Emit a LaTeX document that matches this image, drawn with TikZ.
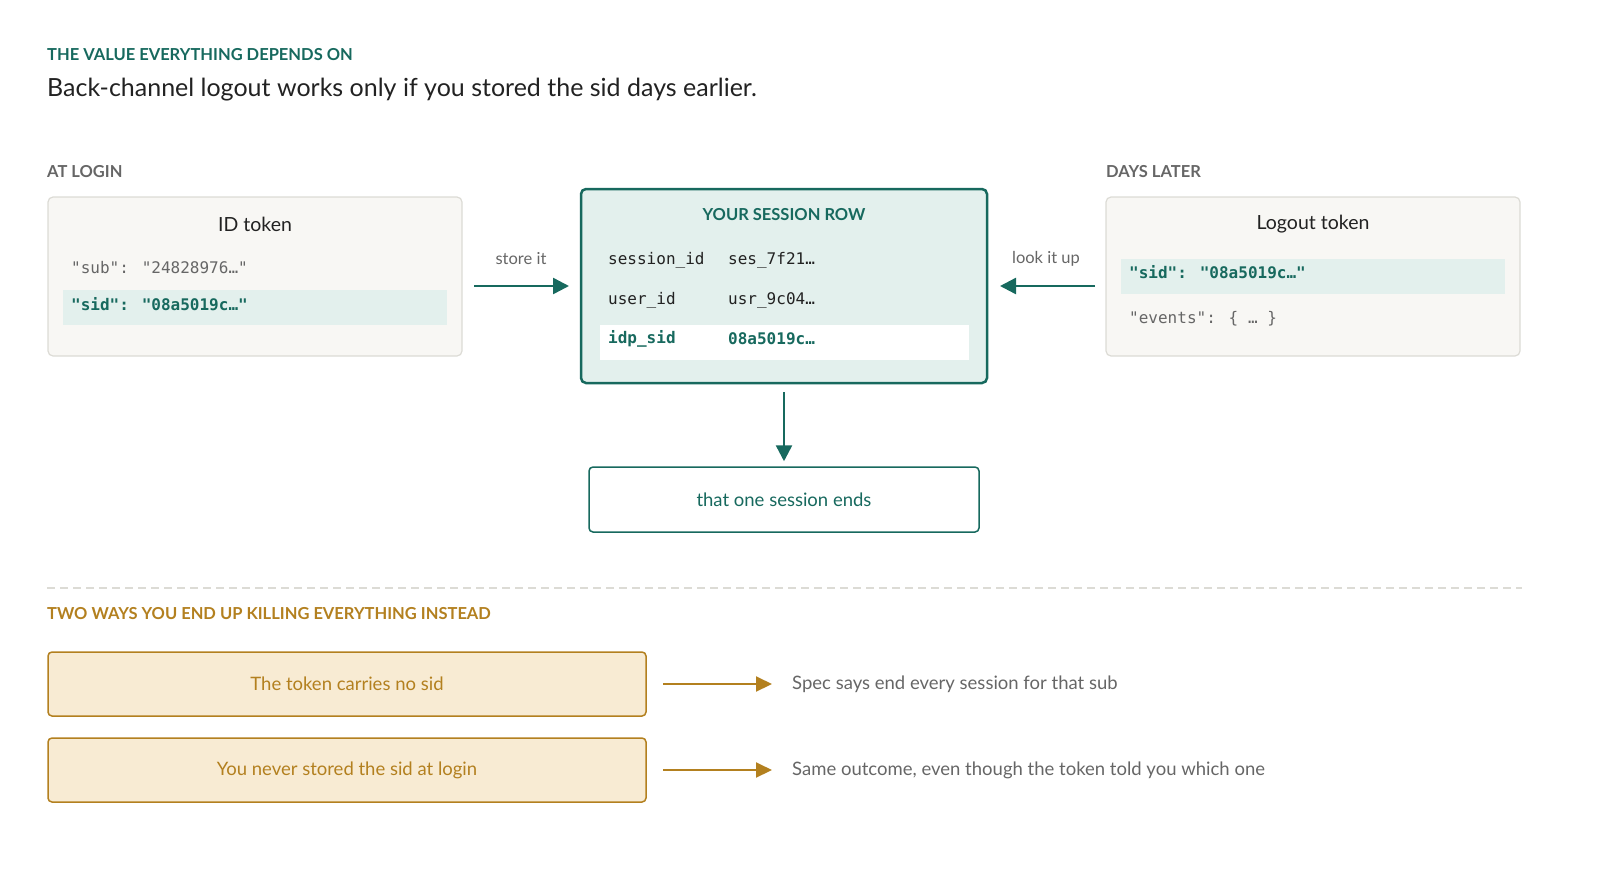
\documentclass[tikz,border=0pt]{standalone}
\usepackage{fontspec}
\setmainfont{Lato}
\newfontfamily\mono{DejaVu Sans Mono}
\usetikzlibrary{arrows.meta}
\definecolor{teal}{HTML}{17695E}
\definecolor{tealbg}{HTML}{E3F0ED}
\definecolor{gold}{HTML}{B3801F}
\definecolor{goldbg}{HTML}{F8EBD3}
\definecolor{gtxt}{HTML}{666666}
\definecolor{card}{HTML}{F8F7F4}
\definecolor{cardb}{HTML}{DCDBD5}
\definecolor{ink}{HTML}{222222}
\begin{document}
\begin{tikzpicture}[x=1pt,y=-1pt,
  lbl/.style={anchor=west,inner sep=0},
  mtxt/.style={lbl,font=\mono\fontsize{16}{18}\selectfont},
  cardbox/.style={draw=cardb,fill=card,line width=1.2pt,rounded corners=5pt},
  arr/.style={line width=2.5pt,-{Triangle[length=16pt,width=16pt]}},
  goldbox/.style={draw=gold,fill=goldbg,line width=1.5pt,rounded corners=4pt,minimum width=598pt,minimum height=64pt,text=gold,font=\fontsize{18.5}{20}\selectfont}]
\useasboundingbox (0,0) rectangle (1600,876);
\node[lbl,text=teal,font=\bfseries\fontsize{16.5}{18}\selectfont] (h1) at (47,55) {THE VALUE EVERYTHING DEPENDS ON};
\node[lbl,text=ink,font=\fontsize{25}{28}\selectfont] (h2) at (47,90) {Back-channel logout works only if you stored the sid days earlier.};
\node[lbl,text=gtxt,font=\bfseries\fontsize{16.5}{18}\selectfont] (al) at (47,172) {AT LOGIN};
\node[lbl,text=gtxt,font=\bfseries\fontsize{16.5}{18}\selectfont] (dl) at (1106,172) {DAYS LATER};
% ID token
\draw[cardbox] (48,197) rectangle (462,356);
\node[text=ink,font=\fontsize{19.5}{22}\selectfont] (idt) at (255,224) {ID token};
\node[mtxt,text=gtxt] (sub) at (71,268) {"sub": "24828976…"};
\fill[tealbg] (63,290) rectangle (447,325);
\node[mtxt,text=teal,font=\mono\bfseries\fontsize{16}{18}\selectfont] (sid1) at (71,304) {"sid": "08a5019c…"};
% session row
\draw[draw=teal,fill=tealbg,line width=2.5pt,rounded corners=5pt] (581,189) rectangle (987,383);
\node[text=teal,font=\bfseries\fontsize{16.5}{18}\selectfont] (st) at (784,215) {YOUR SESSION ROW};
\node[mtxt,text=ink] (r1a) at (608,260) {session\_id};
\node[mtxt,text=ink] (r1b) at (728,260) {ses\_7f21…};
\node[mtxt,text=ink] (r2a) at (608,300) {user\_id};
\node[mtxt,text=ink] (r2b) at (728,300) {usr\_9c04…};
\fill[white] (600,325) rectangle (969,360);
\node[mtxt,text=teal,font=\mono\bfseries\fontsize{16}{18}\selectfont] (r3a) at (608,339) {idp\_sid};
\node[mtxt,text=teal,font=\mono\bfseries\fontsize{16}{18}\selectfont] (r3b) at (728,339) {08a5019c…};
% arrows
\coordinate (s1) at (474,286); \coordinate (s2) at (569,286);
\draw[arr,teal] (s1) -- (s2);
\node[text=gtxt,font=\fontsize{16.5}{18}\selectfont] (sti) at (521,259) {store it};
\coordinate (l1) at (1095,286); \coordinate (l2) at (1000,286);
\draw[arr,teal] (l1) -- (l2);
\node[text=gtxt,font=\fontsize{16.5}{18}\selectfont] (lku) at (1046,259) {look it up};
% logout token
\draw[cardbox] (1106,197) rectangle (1520,356);
\node[text=ink,font=\fontsize{19.5}{22}\selectfont] (lot) at (1313,224) {Logout token};
\fill[tealbg] (1121,259) rectangle (1505,294);
\node[mtxt,text=teal,font=\mono\bfseries\fontsize{16}{18}\selectfont] (sid2) at (1129,272) {"sid": "08a5019c…"};
\node[mtxt,text=gtxt] (ev) at (1129,319) {"events": \{ … \}};
% end
\node[draw=teal,fill=white,line width=1.5pt,rounded corners=4pt,minimum width=390pt,minimum height=65pt,text=teal,font=\fontsize{18.5}{20}\selectfont] (end) at (784,499.5) {that one session ends};
\coordinate (d1) at (784,392);
\draw[arr,teal] (d1) -- ([yshift=5pt]end.north);
% divider
\draw[cardb,line width=1.2pt,dash pattern=on 8pt off 5pt] (47,588) -- (1522,588);
\node[lbl,text=gold,font=\bfseries\fontsize{16.5}{18}\selectfont] (h3) at (47,614) {TWO WAYS YOU END UP KILLING EVERYTHING INSTEAD};
\node[goldbox] (g1) at (347,684) {The token carries no sid};
\node[goldbox] (g2) at (347,770) {You never stored the sid at login};
\node[lbl,text=gtxt,font=\fontsize{18.5}{20}\selectfont] (o1) at (792,684) {Spec says end every session for that sub};
\node[lbl,text=gtxt,font=\fontsize{18.5}{20}\selectfont] (o2) at (792,770) {Same outcome, even though the token told you which one};
\coordinate (a1) at (663,684); \coordinate (a2) at (663,770);
\draw[gold,line width=2pt,-{Triangle[length=16pt,width=15pt]}] (a1) -- ([xshift=-20pt]o1.west);
\draw[gold,line width=2pt,-{Triangle[length=16pt,width=15pt]}] (a2) -- ([xshift=-20pt]o2.west);
\end{tikzpicture}
\end{document}
